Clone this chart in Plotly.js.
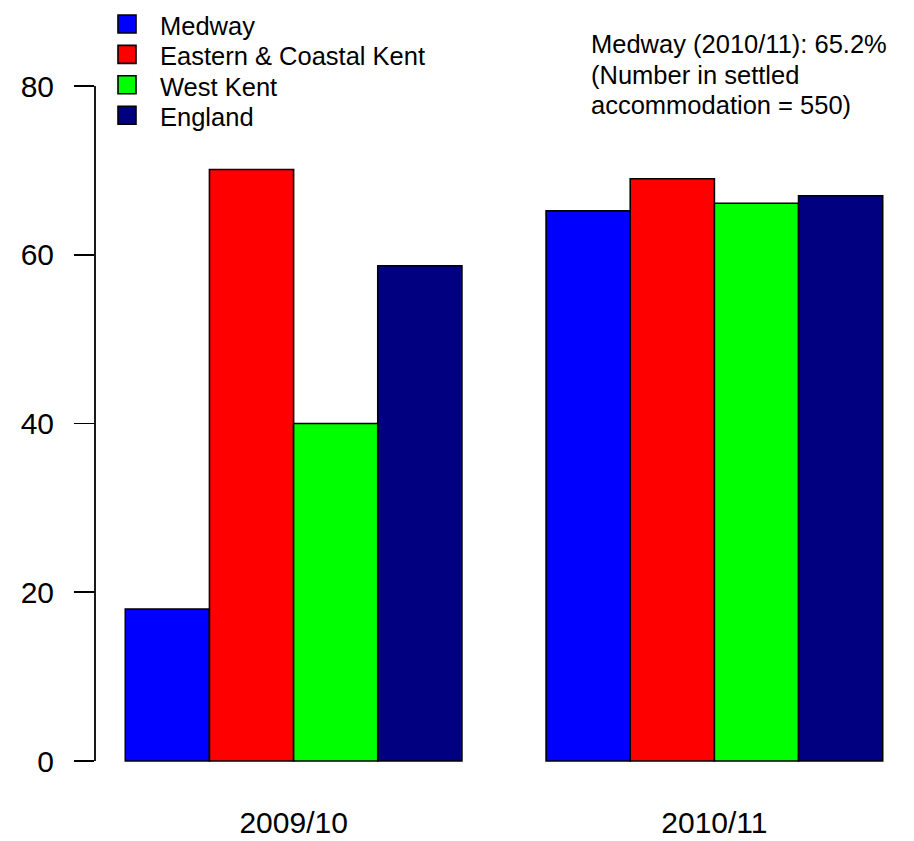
<!DOCTYPE html>
<html>
<head>
<meta charset="utf-8">
<script src="https://cdn.plot.ly/plotly-3.0.1.min.js"></script>
<style>html,body{margin:0;padding:0;background:#fff;}#chart{width:914px;height:841px;}</style>
</head>
<body>
<div id="chart"></div>
<script>
// ---- data ----
var years = ['2009/10', '2010/11'];
var seriesNames = ['Medway', 'Eastern & Coastal Kent', 'West Kent', 'England'];
var medway = [18.0, 65.2];
var easternCoastalKent = [70.1, 69.0];
var westKent = [40.0, 66.1];
var england = [58.7, 67.0];
var yTickVals = [0, 20, 40, 60, 80];
var noteLines = ['Medway (2010/11): 65.2%', '(Number in settled', 'accommodation = 550)'];

// ---- style ----
var colors = ['#0000FF', '#FF0000', '#00FF00', '#000080'];
var FONT = 'Liberation Sans, Arial, Helvetica, sans-serif';
var W = 914, H = 841;
var M = {l: 95, r: 1, t: 59, b: 53};
var plotW = W - M.l - M.r, plotH = H - M.t - M.b;
function px2x(px) { return (px - M.l) / plotW; }
function px2y(py) { return (H - M.b - py) / plotH; }

var values = [medway, easternCoastalKent, westKent, england];
var traces = values.map(function (v, i) {
  return {
    type: 'bar', x: years, y: v, name: seriesNames[i],
    marker: {color: colors[i], line: {color: '#000', width: 1.6}},
    showlegend: false, hoverinfo: 'x+y+name'
  };
});

var shapes = [{
  type: 'line', xref: 'paper', yref: 'y', x0: 0, x1: 0,
  y0: yTickVals[0], y1: yTickVals[yTickVals.length - 1],
  line: {color: '#000', width: 1.8}
}];
var annotations = [];

// legend (drawn manually to match R's compact spacing)
var legTop = 24, legStep = 30.4, sq = 18;
seriesNames.forEach(function (n, i) {
  var cy = legTop + i * legStep;
  shapes.push({
    type: 'rect', xref: 'paper', yref: 'paper',
    x0: px2x(118), x1: px2x(118 + sq), y0: px2y(cy + sq / 2), y1: px2y(cy - sq / 2),
    fillcolor: colors[i], line: {color: '#000', width: 1.6}
  });
  annotations.push({
    xref: 'paper', yref: 'paper', x: px2x(158), y: px2y(cy + 2),
    xanchor: 'left', yanchor: 'middle', showarrow: false,
    text: n, font: {family: FONT, size: 25.5, color: '#000'}
  });
});
noteLines.forEach(function (t, i) {
  annotations.push({
    xref: 'paper', yref: 'paper', x: px2x(589), y: px2y(42.5 + i * 30 + 2),
    xanchor: 'left', yanchor: 'middle', showarrow: false,
    text: t, font: {family: FONT, size: 25.5, color: '#000'}
  });
});

var layout = {
  width: W, height: H,
  margin: M,
  paper_bgcolor: '#fff', plot_bgcolor: '#fff',
  barmode: 'group', bargap: 0.2, bargroupgap: 0,
  showlegend: false,
  font: {family: FONT, color: '#000'},
  xaxis: {
    type: 'category', range: [-0.472, 1.472],
    showline: false, showgrid: false, zeroline: false,
    ticks: '', tickfont: {family: FONT, size: 30, color: '#000'},
    ticklabelstandoff: 14
  },
  yaxis: {
    range: [-3.2, 83.2], tickvals: yTickVals, ticktext: yTickVals.map(String),
    showline: false, showgrid: false, zeroline: false,
    ticks: 'outside', ticklen: 20, tickwidth: 1.8, tickcolor: '#000',
    tickfont: {family: FONT, size: 30, color: '#000'},
    ticklabelstandoff: 14
  },
  shapes: shapes,
  annotations: annotations
};

Plotly.newPlot('chart', traces, layout, {staticPlot: true, displayModeBar: false});
</script>
</body>
</html>
